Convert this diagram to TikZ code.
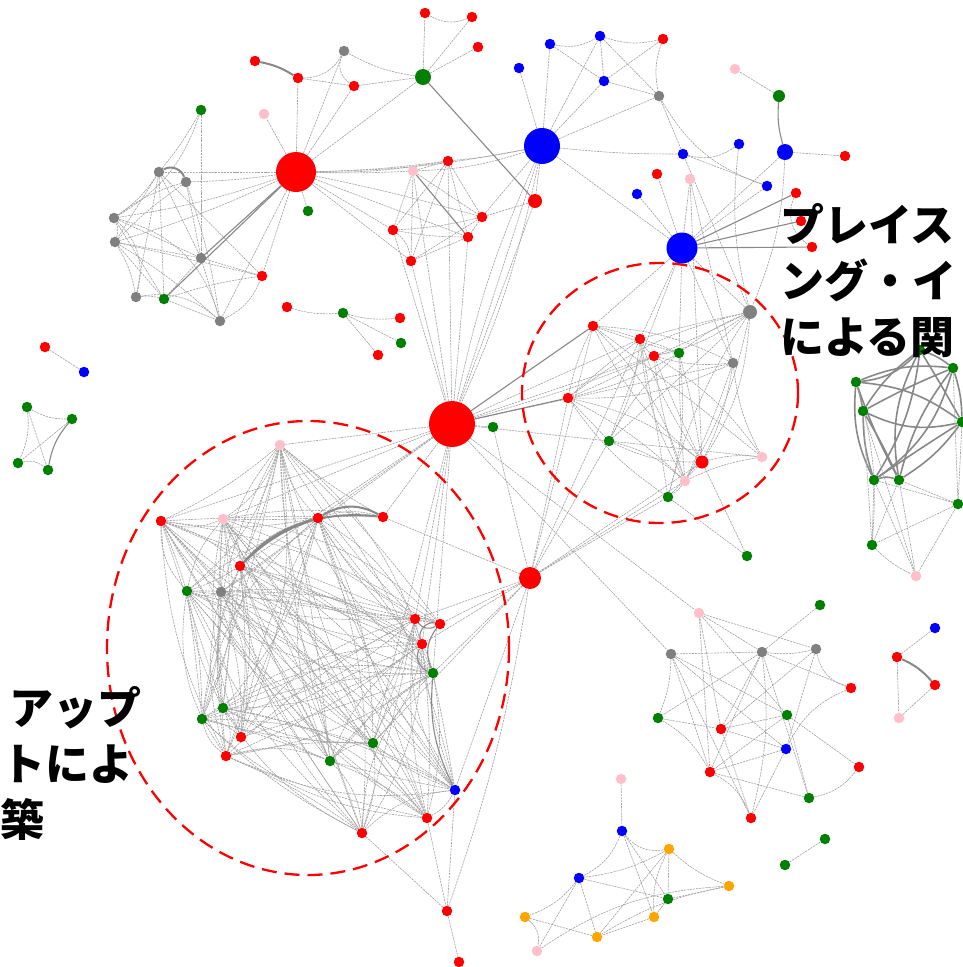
\documentclass[tikz,border=0pt]{standalone}
\usepackage{fontspec}
\newfontfamily\cjk{Noto Sans CJK JP}
\usetikzlibrary{backgrounds}
\definecolor{nred}{HTML}{FF0000}
\definecolor{nblue}{HTML}{0000FF}
\definecolor{ngreen}{HTML}{008000}
\definecolor{ngray}{HTML}{808080}
\definecolor{npink}{HTML}{FFC0CB}
\definecolor{norange}{HTML}{FFA500}
\definecolor{edgec}{HTML}{A0A0A0}
\definecolor{thickc}{HTML}{888888}
\tikzset{
  dot/.style={circle,fill=#1,draw=none,inner sep=0pt,minimum size=10.5pt},
  e/.style={draw=edgec,line width=0.6pt,dash pattern=on 2.2pt off 0.9pt},
  te/.style={draw=thickc,line width=2pt},
  me/.style={draw=thickc,line width=1.1pt},
  ring/.style={draw=nred,line width=2.3pt,dash pattern=on 15pt off 8pt},
  lab/.style={font=\cjk\bfseries\fontsize{44}{56}\selectfont,inner sep=0pt},
}
\begin{document}
\begin{tikzpicture}[x=1pt,y=-1pt]
\useasboundingbox (0,0) rectangle (963,967);
% ---------- nodes ----------
% top-left cluster
\node[dot=nred,minimum size=40pt] (R0) at (296,172) {};
\node[dot=ngreen] (ga) at (201,110) {};
\node[dot=npink] (pa) at (264,114) {};
\node[dot=ngreen] (gb) at (308,211) {};
\node[dot=ngray] (k1) at (159,172) {};
\node[dot=ngray] (k2) at (186,182) {};
\node[dot=ngray] (k3) at (114,218) {};
\node[dot=ngray] (k4) at (115,242) {};
\node[dot=ngray] (k5) at (201,258) {};
\node[dot=nred] (ra) at (262,276) {};
\node[dot=ngray] (k6) at (136,297) {};
\node[dot=ngreen] (gc) at (164,299) {};
\node[dot=ngray] (k7) at (220,321) {};
% top
\node[dot=nred] (rt1) at (255,61) {};
\node[dot=nred] (rt2) at (298,78) {};
\node[dot=ngray] (kt) at (344,51) {};
\node[dot=nred] (rt3) at (354,86) {};
\node[dot=ngreen,minimum size=16pt] (G1) at (423,77) {};
\node[dot=nred] (rt4) at (425,13) {};
\node[dot=nred] (rt5) at (472,17) {};
\node[dot=nred] (rt6) at (478,47) {};
% middle top
\node[dot=npink] (pm) at (413,171) {};
\node[dot=nred] (rm1) at (448,161) {};
\node[dot=nred] (rm2) at (482,217) {};
\node[dot=nred] (rm3) at (393,230) {};
\node[dot=nred] (rm4) at (468,237) {};
\node[dot=nred] (rm5) at (411,261) {};
\node[dot=nred,minimum size=14pt] (rm6) at (535,201) {};
% blue cluster
\node[dot=nblue,minimum size=36pt] (B1) at (542,146) {};
\node[dot=nblue] (b1) at (519,68) {};
\node[dot=nblue] (b2) at (550,44) {};
\node[dot=nblue] (b3) at (600,36) {};
\node[dot=nred] (rb1) at (663,39) {};
\node[dot=nblue] (b4) at (604,81) {};
\node[dot=ngray] (kb) at (659,96) {};
\node[dot=nblue] (b5) at (683,154) {};
\node[dot=nblue] (b6) at (739,144) {};
\node[dot=nblue,minimum size=16pt] (B2) at (785,152) {};
\node[dot=nred] (rb2) at (845,156) {};
\node[dot=ngreen,minimum size=12pt] (gb1) at (779,96) {};
\node[dot=npink] (pb1) at (735,69) {};
\node[dot=nred] (rb3) at (657,174) {};
\node[dot=npink] (pb2) at (690,179) {};
\node[dot=nblue] (b7) at (637,194) {};
\node[dot=nblue] (b8) at (767,186) {};
\node[dot=nred] (rb4) at (796,193) {};
\node[dot=nred] (rb5) at (801,221) {};
\node[dot=nred] (rb6) at (812,247) {};
\node[dot=nblue,minimum size=31pt] (B3) at (682,248) {};
% small cluster
\node[dot=nred] (rs1) at (287,307) {};
\node[dot=ngreen] (gs1) at (343,313) {};
\node[dot=nred] (rs2) at (400,318) {};
\node[dot=ngreen] (gs2) at (401,343) {};
\node[dot=nred] (rs3) at (378,355) {};
% centre
\node[dot=nred,minimum size=46pt] (R1) at (452,424) {};
\node[dot=ngreen] (gc1) at (493,427) {};
% right circle cluster
\node[dot=ngray,minimum size=14pt] (C1) at (750,312) {};
\node[dot=nred] (C2) at (593,326) {};
\node[dot=nred] (C3) at (640,339) {};
\node[dot=nred] (C4) at (654,356) {};
\node[dot=ngreen] (C5) at (679,353) {};
\node[dot=ngray] (C6) at (733,363) {};
\node[dot=nred] (C7) at (568,398) {};
\node[dot=ngreen] (C8) at (609,441) {};
\node[dot=nred,minimum size=13pt] (C9) at (702,462) {};
\node[dot=npink] (C10) at (762,457) {};
\node[dot=npink] (C11) at (685,481) {};
\node[dot=ngreen] (C12) at (668,497) {};
\node[dot=ngreen] (gr4) at (747,556) {};
\node[dot=nred,minimum size=22pt] (R2) at (530,578) {};
% left big cluster
\node[dot=npink] (L1) at (280,445) {};
\node[dot=nred] (L2) at (161,521) {};
\node[dot=npink] (L3) at (223,519) {};
\node[dot=nred] (L4) at (318,518) {};
\node[dot=nred] (L5) at (383,517) {};
\node[dot=nred] (L6) at (240,566) {};
\node[dot=ngreen] (L7) at (187,591) {};
\node[dot=ngray] (L8) at (221,592) {};
\node[dot=nred] (L9) at (415,619) {};
\node[dot=nred] (L10) at (440,624) {};
\node[dot=nred] (L11) at (422,644) {};
\node[dot=ngreen] (L12) at (433,673) {};
\node[dot=ngreen] (L13) at (223,708) {};
\node[dot=ngreen] (L14) at (202,719) {};
\node[dot=nred] (L15) at (241,737) {};
\node[dot=nred] (L16) at (226,756) {};
\node[dot=ngreen] (L17) at (373,743) {};
\node[dot=ngreen] (L18) at (330,761) {};
\node[dot=nblue] (L19) at (455,790) {};
\node[dot=nred] (L20) at (427,818) {};
\node[dot=nred] (L21) at (362,833) {};
\node[dot=nred] (rl12) at (447,911) {};
\node[dot=nred] (rl13) at (459,962) {};
% right-bottom cluster
\node[dot=npink] (pq1) at (699,613) {};
\node[dot=ngreen] (gq1) at (820,605) {};
\node[dot=ngray] (kq1) at (671,654) {};
\node[dot=ngray] (kq2) at (762,652) {};
\node[dot=ngray] (kq3) at (816,649) {};
\node[dot=nred] (rq1) at (851,688) {};
\node[dot=ngreen] (gq2) at (658,718) {};
\node[dot=nred] (rq2) at (721,729) {};
\node[dot=ngreen] (gq3) at (787,715) {};
\node[dot=nblue] (bq1) at (786,749) {};
\node[dot=nred] (rq3) at (710,772) {};
\node[dot=nred] (rq4) at (859,767) {};
\node[dot=ngreen] (gq4) at (809,798) {};
\node[dot=nred] (rq5) at (751,818) {};
% far right small
\node[dot=nblue] (bf1) at (935,628) {};
\node[dot=nred] (rf1) at (897,657) {};
\node[dot=nred] (rf2) at (935,685) {};
\node[dot=npink] (pf1) at (899,718) {};
% bottom cluster
\node[dot=npink] (po1) at (621,779) {};
\node[dot=nblue] (bo1) at (622,831) {};
\node[dot=norange] (o1) at (669,849) {};
\node[dot=nblue] (bo2) at (579,878) {};
\node[dot=norange] (o2) at (729,886) {};
\node[dot=ngreen] (go1) at (668,899) {};
\node[dot=norange] (o3) at (525,917) {};
\node[dot=norange] (o4) at (654,917) {};
\node[dot=norange] (o5) at (597,937) {};
\node[dot=npink] (po2) at (537,951) {};
\node[dot=ngreen] (go2) at (785,865) {};
\node[dot=ngreen] (go3) at (825,839) {};
% left small
\node[dot=nred] (rx1) at (45,347) {};
\node[dot=nblue] (bx1) at (84,372) {};
\node[dot=ngreen] (gx1) at (27,407) {};
\node[dot=ngreen] (gx2) at (72,419) {};
\node[dot=ngreen] (gx3) at (18,463) {};
\node[dot=ngreen] (gx4) at (48,470) {};
% right green cluster
\node[dot=ngreen] (Y1) at (920,350) {};
\node[dot=ngreen] (Y2) at (953,368) {};
\node[dot=ngreen] (Y3) at (856,382) {};
\node[dot=ngreen] (Y4) at (863,411) {};
\node[dot=ngreen] (Y5) at (962,422) {};
\node[dot=ngreen] (Y6) at (874,480) {};
\node[dot=ngreen] (Y7) at (899,480) {};
\node[dot=ngreen] (Y8) at (958,504) {};
\node[dot=ngreen] (Y9) at (872,545) {};
\node[dot=npink] (py1) at (916,576) {};
% ---------- edges ----------
\begin{scope}[on background layer]
% dense left cluster
\foreach \i in {1,...,21}{\foreach \j in {1,...,21}{%
  \ifnum\j>\i\relax
    \pgfmathtruncatemacro\sk{mod(\i*3+\j*5,5)}%
    \ifnum\sk>0\relax
      \pgfmathtruncatemacro\bb{mod(\i*7+\j*11,45)-22}%
      \draw[e] (L\i) to[bend left=\bb] (L\j);
    \fi
  \fi}}
% dense right circle cluster
\foreach \i in {1,...,12}{\foreach \j in {1,...,12}{%
  \ifnum\j>\i\relax
    \pgfmathtruncatemacro\sk{mod(\i*2+\j*5,4)}%
    \ifnum\sk>0\relax
      \pgfmathtruncatemacro\bb{mod(\i*5+\j*13,31)-15}%
      \draw[e] (C\i) to[bend left=\bb] (C\j);
    \fi
  \fi}}
% right green cluster (thick)
\foreach \i in {1,...,7}{\foreach \j in {1,...,7}{%
  \ifnum\j>\i\relax
    \pgfmathtruncatemacro\bb{mod(\i*7+\j*11,41)-20}%
    \draw[draw=thickc,line width=1.6pt] (Y\i) to[bend left=\bb] (Y\j);
  \fi}}
\foreach \a/\b/\c in {
  % top-left
  R0/pa/0, R0/rt2/0, R0/kt/0, R0/rt3/0, R0/G1/0, R0/gb/0, R0/k1/0, R0/k2/3, R0/k3/5, R0/k4/4,
  R0/ra/0, R0/k7/0, R0/pm/-2, R0/rm1/-3, R0/rm3/0, R0/rm2/2, R0/rm4/0, R0/B1/-5, R0/rm5/0,
  ga/k1/5, ga/k5/0, k1/k3/10, k1/k4/0, k1/k6/0, k1/gc/0, k1/k5/0, k2/k5/0, k2/k7/5, k2/k3/-10,
  k3/k4/20, k3/k5/0, k3/gc/0, k3/k6/30, k4/k5/0, k4/k6/10, k4/gc/0, k4/k7/5, k4/ra/0, k5/gc/0,
  k5/k7/0, k5/ra/0, k6/gc/10, k6/k7/25, gc/ra/5, gc/k7/0, k7/ra/-20, k2/k4/-5, k1/ra/0, k3/k7/30, ga/k3/20,
  % top
  rt2/kt/-30, kt/rt3/-40, rt2/rt3/0, rt3/G1/0, kt/G1/-10, G1/rt4/0, G1/rt5/0, G1/rt6/0, rt4/rt5/-25,
  % middle top
  pm/rm1/0, pm/rm2/0, pm/rm3/0, pm/rm5/0, rm1/rm2/0, rm1/rm3/0, rm1/rm4/0, rm1/rm5/0, rm2/rm3/5,
  rm2/rm4/0, rm2/rm5/0, rm3/rm4/-5, rm3/rm5/20, rm4/rm5/0, rm2/rm6/0, rm2/B1/0, rm1/B1/-3, pm/B1/-8,
  rm6/B1/0, rm1/R0/5, rm3/R1/0, rm5/R1/0, rm4/R1/0, rm1/R1/0, rm6/R1/0,
  % blue
  B1/b1/0, B1/b2/0, B1/b3/0, B1/b4/0, B1/kb/0, B1/b5/-3, B1/B3/0, B1/R1/0, B1/R1/6, B1/R1/-6,
  b2/b3/-20, b2/b4/0, b3/b4/0, b3/kb/0, b3/rb1/-15, b4/rb1/0, b4/kb/0, rb1/kb/-15, kb/b5/0, kb/b8/-20,
  b5/b6/-25, b5/b8/0, b6/C1/-10, b5/C1/0, gb1/pb1/0, B2/rb2/0, B2/B3/0, B2/C1/10, B3/b7/0, B3/rb3/0,
  B3/pb2/0, B3/b8/0, B3/C2/0, B3/C3/0, B3/C1/0, B3/C6/0, B3/C8/0, B3/C5/0, pb2/C9/0, pb2/C6/0, rb4/rb6/-40,
  % small
  rs1/gs1/-10, gs1/rs2/-10, gs1/gs2/0, gs1/rs3/0,
  % centre star
  R1/gc1/0, R1/C3/0, R1/C4/0, R1/C8/0, R1/C1/-5, R1/C6/0, R1/pm/0, R1/L1/0, R1/L2/0, R1/L5/0, R1/L4/0,
  R1/L9/0, R1/L11/0, R1/L12/0, R1/L6/0, R1/L3/0, R1/kq1/0, R1/pq1/0, R1/L17/0, R1/L8/0,
  R2/L9/0, R2/L10/0, R2/L11/0, R2/L12/0, R2/L19/0, R2/C8/0, R2/C12/0, R2/C11/0, R2/C7/0, R2/C2/0,
  R2/L17/0, R2/L5/0, R2/gc1/0, R2/rl12/5, R2/C9/0, R2/C3/0,
  C12/gr4/0, C9/gr4/0, C9/C10/10,
  L19/rl12/0, L20/rl12/0, L21/rl12/0, rl12/rl13/0,
  % right-bottom
  pq1/kq3/0, pq1/gq3/0, pq1/rq3/0, pq1/kq2/0, pq1/rq2/0, kq1/kq2/0, kq1/rq3/0, kq1/gq2/10, kq1/gq3/0,
  kq1/bq1/0, kq1/rq5/0, kq2/kq3/-10, kq2/gq1/0, kq2/rq1/0, kq2/rq2/0, kq2/rq3/0, kq2/gq4/0, kq2/gq2/0,
  kq3/rq1/-30, kq3/bq1/0, kq3/rq2/0, gq2/rq2/0, gq2/rq3/15, rq2/gq3/0, rq2/bq1/0, rq2/rq5/0, gq3/rq3/0,
  gq3/rq4/0, gq3/gq4/0, bq1/rq3/0, bq1/rq5/0, rq3/gq4/0, rq3/rq5/20, gq4/rq4/-20, rq1/bq1/-20, kq2/rq5/10,
  % far right
  rf1/bf1/0, rf1/pf1/0, pf1/rf2/0,
  % bottom
  po1/bo1/0, bo1/o1/-30, bo1/bo2/20, bo1/go1/0, bo1/o4/0, o1/bo2/10, o1/o2/-10, o1/go1/0, o1/o5/0,
  o1/o4/-15, bo2/go1/0, bo2/o5/0, bo2/po2/0, bo2/o3/15, o3/o5/0, o3/po2/30, po2/o2/15, o2/go1/0,
  o2/o5/-10, go1/o4/0, o4/o5/0, go2/go3/0,
  % left small
  rx1/bx1/0, gx1/gx2/-15, gx1/gx3/15, gx1/gx4/0, gx2/gx3/0, gx3/gx4/25,
  % right green light
  Y6/Y9/0, Y7/Y9/0, Y6/py1/0, Y7/py1/0, Y8/Y9/0, Y8/Y6/0, Y8/Y7/0, Y9/py1/-10, Y8/py1/0, Y5/Y8/0,
  Y2/Y8/0, Y3/Y9/10, Y4/Y9/0, Y4/py1/0}
  {\draw[e] (\a) to[bend left=\c] (\b);}
% thicker edges
\foreach \a/\b/\c in {R0/gc/0, R0/k5/0, G1/rm6/0, pm/rm4/0, B2/gb1/10, B3/rb4/0, B3/rb5/0, B3/rb6/0,
  R1/C7/0, R1/C2/0, gx2/gx4/-15, L9/L10/-40, L10/L11/-60, L11/L12/-50, L10/L12/-30, L12/L19/-15}
  {\draw[me] (\a) to[bend left=\c] (\b);}
\foreach \a/\b/\c in {k1/k2/50, rt1/rt2/10, rf1/rf2/12, L6/L5/25, L6/L4/15, L4/L5/30}
  {\draw[te] (\a) to[bend left=\c] (\b);}
% dashed red rings
\draw[ring] (308,648) ellipse [x radius=201, y radius=227];
\draw[ring] (660,393) ellipse [x radius=138, y radius=130];
\end{scope}
% ---------- labels ----------
\node[lab,anchor=base west] (t1) at (780,241) {プレイス};
\node[lab,anchor=base west] (t2) at (780,297) {ング・イ};
\node[lab,anchor=base west] (t3) at (780,353) {による関};
\node[lab,anchor=base east] (t4) at (142,724) {アップ};
\node[lab,anchor=base east] (t5) at (134,780) {トによ};
\node[lab,anchor=base west] (t6) at (0,836) {築};
\end{tikzpicture}
\end{document}
